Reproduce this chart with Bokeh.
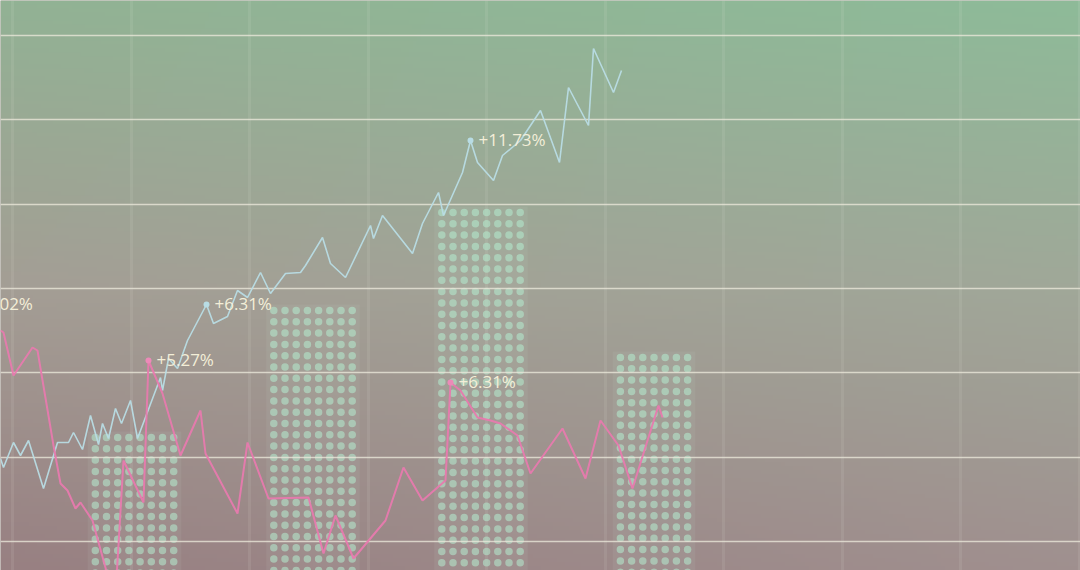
import numpy as np
from bokeh.plotting import figure
from bokeh.core.properties import value
from bokeh.embed import file_html
from bokeh.resources import INLINE

# ---------------- data (x = position, y = level) ----------------
blue_x = [0, 3, 13, 20, 28, 43, 57, 68, 73, 82, 90, 98, 102, 108, 115, 121, 130, 137, 160, 162,
          168, 177, 187, 206, 213, 227, 237, 247, 260, 270, 285, 300, 305, 322, 330, 345, 370, 373,
          382, 412, 422, 438, 443, 462, 470, 477, 493, 502, 520, 540, 559, 568, 588, 593, 613, 621]
blue_y = [112, 103, 128, 115, 130, 82, 128, 128, 138, 121, 155, 126, 147, 132, 162, 147, 170, 132, 193, 180,
          212, 202, 230, 266, 247, 254, 280, 273, 298, 277, 297, 298, 305, 333, 307, 293, 345, 332,
          355, 317, 347, 378, 355, 398, 430, 408, 390, 415, 430, 460, 408, 483, 445, 522, 478, 500]

pink_x = [0, 3, 13, 32, 37, 53, 60, 67, 75, 80, 92, 103, 108, 116, 123, 143, 148, 162, 180, 200,
          205, 237, 247, 268, 308, 323, 335, 353, 385, 403, 422, 445, 450, 460, 477, 490, 500, 517,
          530, 562, 585, 600, 618, 632, 658, 662]
pink_y = [240, 238, 195, 223, 220, 125, 87, 80, 62, 68, 50, 10, -8, -8, 110, 68, 210, 177, 115, 160,
          117, 57, 128, 72, 73, 17, 55, 12, 50, 103, 70, 90, 188, 180, 153, 150, 147, 135,
          97, 142, 92, 150, 125, 82, 165, 153]

# labelled points
label_x = [-33, 206, 470, 148, 450]
label_y = [266, 266, 430, 210, 188]
label_text = ["+7.02%", "+6.31%", "+11.73%", "+5.27%", "+6.31%"]
label_series = ["pink", "blue", "blue", "pink", "pink"]

# dotted bars
bar_center = [134, 312.5, 480.5, 653.5]
bar_top = [133, 260, 358, 213]
bar_cols = [8, 8, 8, 7]

# grid levels
hgrid_levels = [29, 113, 198, 282, 366, 451, 535]
vgrid_levels = [12, 131, 249, 368, 486, 605, 723, 842, 960, 1079]

# ---------------- figure ----------------
W, H = 1080, 570
p = figure(width=W, height=H, x_range=(0, 1080), y_range=(0, 570),
           output_backend="svg", toolbar_location=None,
           x_axis_location=None, y_axis_location=None, min_border=0)
p.outline_line_color = None
p.grid.visible = False
p.background_fill_color = "#a09a90"
p.border_fill_color = "#a09a90"

# background gradient
ny, nx = 143, 270
top_L, top_R = np.array([146, 178, 148]), np.array([142, 187, 153])
mid_L, mid_R = np.array([164, 158, 149]), np.array([160, 168, 153])
bot_L, bot_R = np.array([152, 128, 130]), np.array([160, 144, 143])
tv = np.linspace(0, 1, ny)[:, None, None]     # 0 bottom -> 1 top
th = np.linspace(0, 1, nx)[None, :, None]
L = np.where(tv < 0.5, bot_L + (mid_L - bot_L) * (tv / 0.5), mid_L + (top_L - mid_L) * ((tv - 0.5) / 0.5))
R = np.where(tv < 0.5, bot_R + (mid_R - bot_R) * (tv / 0.5), mid_R + (top_R - mid_R) * ((tv - 0.5) / 0.5))
rgb = L + (R - L) * th
img = np.empty((ny, nx), dtype=np.uint32)
view = img.view(dtype=np.uint8).reshape((ny, nx, 4))
view[:, :, :3] = np.clip(rgb, 0, 255).astype(np.uint8)
view[:, :, 3] = 255
p.image_rgba(image=[img], x=0, y=0, dw=1080, dh=570)

# vertical faint grid
p.vspan(x=vgrid_levels, line_color="#f4f0e4", line_alpha=0.09, line_width=3)

# bar glow + dots
DX, DY = 11.2, 11.3
dot_x, dot_y = [], []
for cx, top, nc in zip(bar_center, bar_top, bar_cols):
    xs = cx + (np.arange(nc) - (nc - 1) / 2) * DX
    ys = np.arange(top, -10, -DY)
    gx, gy = np.meshgrid(xs, ys)
    dot_x.extend(gx.ravel().tolist())
    dot_y.extend(gy.ravel().tolist())
    p.quad(left=[cx - nc * DX / 2 - 2], right=[cx + nc * DX / 2 + 2], bottom=[-20], top=[top + 6],
           fill_color="#d4f2e2", fill_alpha=0.07, line_color=None)
p.scatter(dot_x, dot_y, size=7.5, fill_color="#b4ecd0", fill_alpha=0.55, line_color=None)

# horizontal grid lines
p.hspan(y=hgrid_levels, line_color="#ebe8da", line_alpha=0.78, line_width=1.7)

# lines
p.line(blue_x, blue_y, line_color="#b8dce4", line_width=1.6, line_alpha=0.95)
p.line(pink_x, pink_y, line_color="#e77aae", line_width=2.0, line_alpha=0.95)

# markers and labels
mcol = {"blue": "#b8dce4", "pink": "#ec8ab8"}
p.scatter(label_x, label_y, size=6, fill_color=[mcol[s] for s in label_series], line_color=None)
p.text([x + 8 for x in label_x], [y + 1 for y in label_y], text=label_text,
       text_font=value("Open Sans"), text_font_size="17px", text_color="#f3eed8",
       text_align="left", text_baseline="middle")

open("out.html", "w").write(file_html(p, INLINE))
